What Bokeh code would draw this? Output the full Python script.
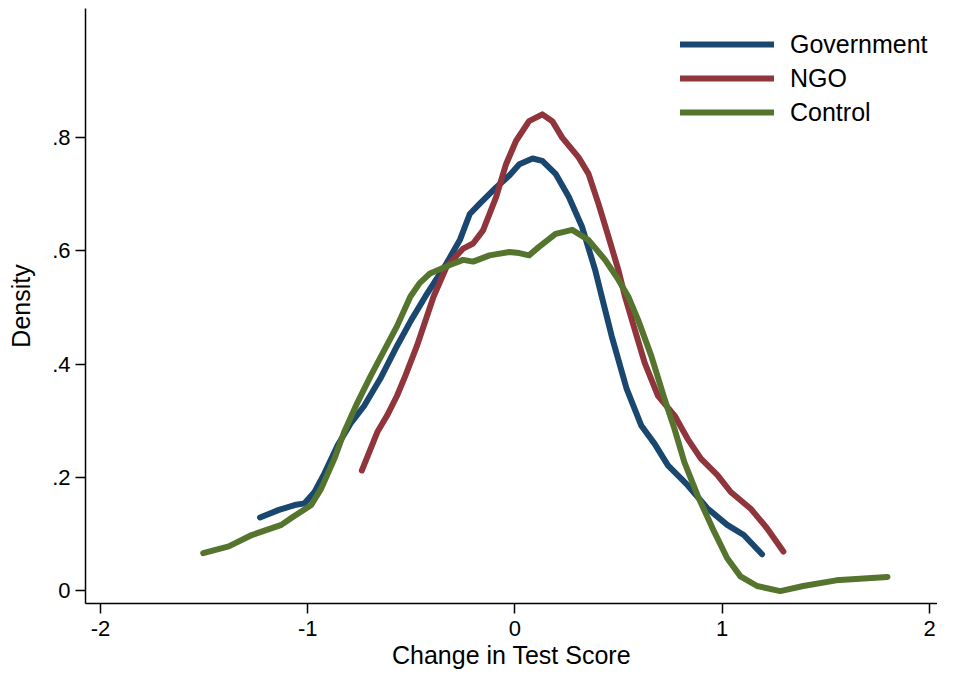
from bokeh.plotting import figure
from bokeh.models import Range1d, FixedTicker, Legend, LegendItem
from bokeh.embed import file_html
from bokeh.resources import INLINE

# ---- data ----
gov_x = [-1.230, -1.142, -1.063, -1.015, -0.967, -0.919, -0.856, -0.793, -0.728, -0.650,
         -0.569, -0.500, -0.433, -0.330, -0.266, -0.218, -0.171, -0.091, -0.027, 0.021,
         0.085, 0.132, 0.196, 0.260, 0.324, 0.387, 0.419, 0.467, 0.539, 0.610,
         0.674, 0.738, 0.833, 0.929, 1.024, 1.104, 1.192]
gov_y = [0.129, 0.142, 0.151, 0.154, 0.174, 0.207, 0.256, 0.295, 0.326, 0.374,
         0.432, 0.478, 0.519, 0.578, 0.619, 0.665, 0.683, 0.712, 0.733, 0.753,
         0.763, 0.759, 0.736, 0.695, 0.642, 0.566, 0.519, 0.449, 0.356, 0.291,
         0.259, 0.221, 0.186, 0.145, 0.116, 0.098, 0.064]

ngo_x = [-0.739, -0.664, -0.617, -0.569, -0.529, -0.473, -0.393, -0.330, -0.250, -0.202,
         -0.154, -0.091, -0.043, 0.005, 0.068, 0.132, 0.180, 0.228, 0.307, 0.355,
         0.403, 0.451, 0.499, 0.531, 0.578, 0.626, 0.690, 0.770, 0.833, 0.897,
         0.977, 1.041, 1.136, 1.216, 1.295]
ngo_y = [0.212, 0.280, 0.309, 0.344, 0.379, 0.432, 0.519, 0.572, 0.604, 0.613,
         0.636, 0.695, 0.753, 0.794, 0.829, 0.841, 0.829, 0.800, 0.765, 0.736,
         0.683, 0.625, 0.566, 0.519, 0.461, 0.402, 0.344, 0.309, 0.268, 0.233,
         0.204, 0.174, 0.145, 0.110, 0.069]

ctl_x = [-1.504, -1.381, -1.270, -1.127, -1.079, -0.983, -0.935, -0.871, -0.824, -0.760,
         -0.696, -0.569, -0.505, -0.460, -0.410, -0.314, -0.250, -0.202, -0.123, -0.027,
         0.021, 0.068, 0.116, 0.196, 0.276, 0.355, 0.435, 0.499, 0.547, 0.594,
         0.658, 0.722, 0.770, 0.817, 0.881, 0.961, 1.024, 1.088, 1.168, 1.280,
         1.391, 1.550, 1.797]
ctl_y = [0.066, 0.078, 0.098, 0.116, 0.128, 0.151, 0.180, 0.233, 0.280, 0.332,
         0.379, 0.467, 0.519, 0.543, 0.560, 0.575, 0.584, 0.581, 0.592, 0.598,
         0.596, 0.592, 0.607, 0.630, 0.637, 0.619, 0.584, 0.549, 0.519, 0.478,
         0.414, 0.338, 0.285, 0.227, 0.168, 0.104, 0.057, 0.025, 0.008, -0.001,
         0.008, 0.018, 0.024]

series_names = ["Government", "NGO", "Control"]
x_ticks = [-2, -1, 0, 1, 2]
x_tick_labels = ["-2", "-1", "0", "1", "2"]
y_ticks = [0, 0.2, 0.4, 0.6, 0.8]
y_tick_labels = ["0", ".2", ".4", ".6", ".8"]
x_title = "Change in Test Score"
y_title = "Density"

# ---- styles ----
FONT = "Liberation Sans"
colors = ["#1a476f", "#90353b", "#55752f"]

p = figure(width=937, height=671, output_backend="svg", toolbar_location=None,
           x_range=Range1d(-2.072, 2.0386), y_range=Range1d(-0.0229, 1.028),
           min_border_left=85, min_border_right=0, min_border_top=8, min_border_bottom=66)
p.outline_line_color = None
p.xgrid.visible = False
p.ygrid.visible = False
p.background_fill_color = "white"
p.border_fill_color = "white"

renderers = []
for xs, ys, c in zip([gov_x, ngo_x, ctl_x], [gov_y, ngo_y, ctl_y], colors):
    r = p.line(xs, ys, line_color=c, line_width=6, line_cap="round", line_join="round")
    renderers.append(r)

for ax in (p.xaxis[0], p.yaxis[0]):
    ax.axis_line_color = "#000000"
    ax.axis_line_width = 1.5
    ax.major_tick_line_color = "#000000"
    ax.major_tick_line_width = 1.5
    ax.major_tick_out = 10
    ax.major_tick_in = 0
    ax.minor_tick_line_color = None
    ax.major_label_text_font = FONT
    ax.major_label_text_font_size = "22px"
    ax.major_label_text_color = "#000000"
    ax.axis_label_text_font = FONT
    ax.axis_label_text_font_size = "25px"
    ax.axis_label_text_font_style = "normal"
    ax.axis_label_text_color = "#000000"

p.xaxis[0].ticker = FixedTicker(ticks=x_ticks)
p.xaxis[0].major_label_overrides = dict(zip(x_ticks, x_tick_labels))
p.xaxis[0].axis_label = x_title
p.xaxis[0].major_label_standoff = 7
p.xaxis[0].axis_label_standoff = 2

p.yaxis[0].ticker = FixedTicker(ticks=y_ticks)
p.yaxis[0].major_label_overrides = dict(zip(y_ticks, y_tick_labels))
p.yaxis[0].axis_label = y_title
p.yaxis[0].major_label_standoff = 5
p.yaxis[0].axis_label_standoff = 14

legend = Legend(items=[LegendItem(label=n, renderers=[r]) for n, r in zip(series_names, renderers)],
                location=(595, 476), padding=0, margin=0, spacing=4,
                glyph_width=94, glyph_height=30, label_height=30, label_standoff=16,
                label_text_font=FONT, label_text_font_size="25px", label_text_color="#000000",
                border_line_color=None, background_fill_alpha=0)
p.add_layout(legend)

open("out.html", "w").write(file_html(p, INLINE))
